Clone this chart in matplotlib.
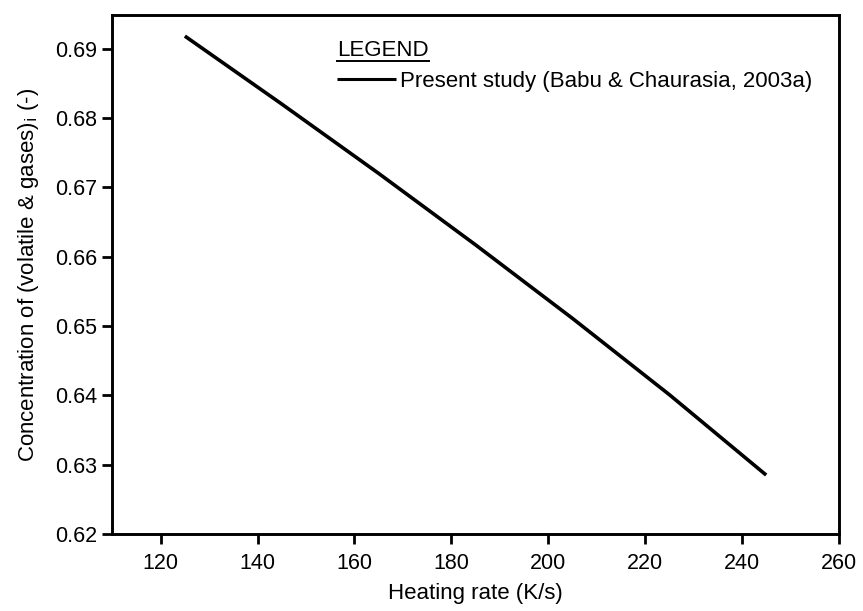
import matplotlib
matplotlib.use("Agg")
import matplotlib.pyplot as plt
import numpy as np

plt.rcParams['font.family'] = ['Liberation Sans', 'DejaVu Sans']

heating_rate = [125, 145, 165, 185, 205, 225, 245]
concentration = [0.6918, 0.6820, 0.6720, 0.6617, 0.6511, 0.6401, 0.6285]
xticks = [120, 140, 160, 180, 200, 220, 240, 260]
yticks = [0.62, 0.63, 0.64, 0.65, 0.66, 0.67, 0.68, 0.69]
series_label = "Present study (Babu & Chaurasia, 2003a)"

fig = plt.figure(figsize=(8.63, 6.11), dpi=100)
ax = fig.add_axes([0.130, 0.126, 0.842, 0.849])

ax.plot(heating_rate, concentration, color='black', lw=2.6,
        solid_capstyle='butt', solid_joinstyle='round', label=series_label)

ax.set_xlim(110, 260)
ax.set_ylim(0.62, 0.6948)
ax.set_xticks(xticks)
ax.set_yticks(yticks)
ax.set_yticklabels([f"{v:.2f}" for v in yticks])
for s in ax.spines.values():
    s.set_linewidth(2.1)
ax.tick_params(axis='both', direction='out', length=7, width=2.0,
               labelsize=15.5, pad=4)
ax.tick_params(axis='x', pad=7)

ax.set_xlabel("Heating rate (K/s)", fontsize=16, labelpad=6)
ax.set_ylabel("Concentration of (volatile & gases)$_{\\rm i}$ (-)", fontsize=16, labelpad=10)

leg = ax.legend(loc='center left', bbox_to_anchor=(0.310, 0.872), frameon=False,
                fontsize=16, handlelength=2.65, handletextpad=0.15,
                borderpad=0, borderaxespad=0)
for h in leg.get_lines():
    h.set_linewidth(2.2)

t = ax.text(0.310, 0.921, "LEGEND", transform=ax.transAxes, fontsize=16,
            ha='left', va='baseline')
fig.canvas.draw()
bb = t.get_window_extent().transformed(ax.transAxes.inverted())
ax.plot([bb.x0, bb.x1], [0.912, 0.912], transform=ax.transAxes,
        color='black', lw=1.4, clip_on=False)

fig.savefig("out.png", dpi=100)
